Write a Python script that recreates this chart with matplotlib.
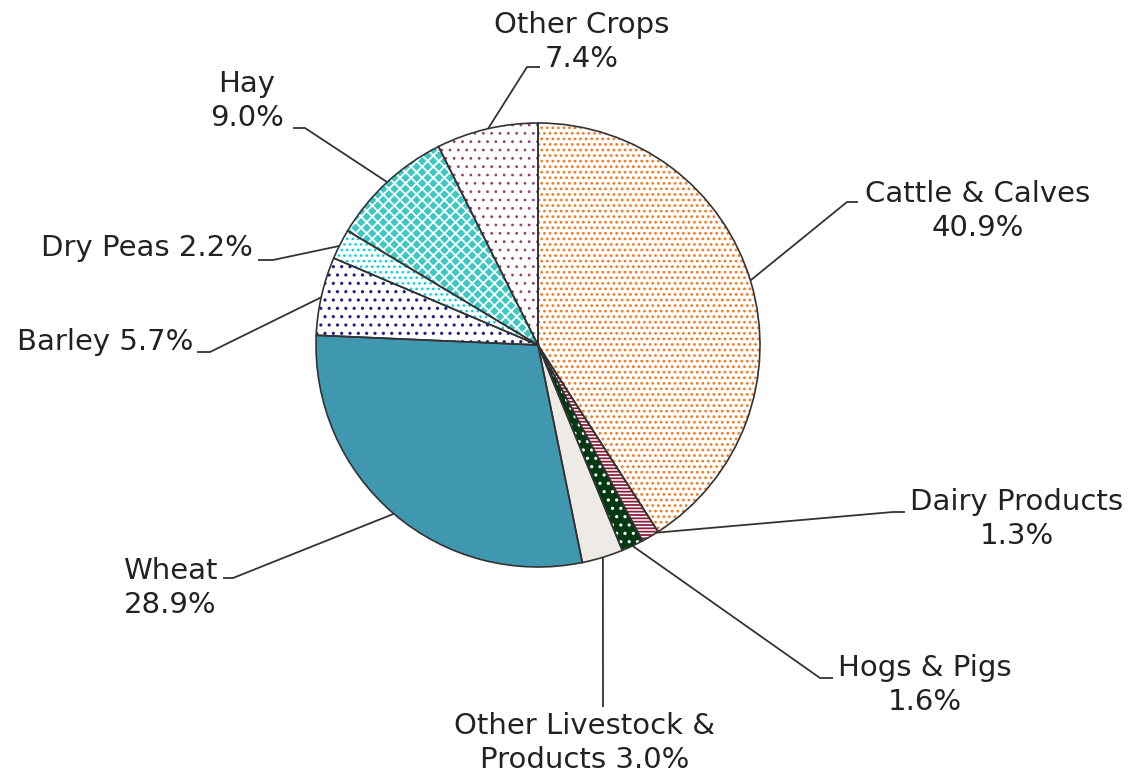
import numpy as np
import matplotlib
matplotlib.use("Agg")
from matplotlib import pyplot as plt
from matplotlib.patches import Wedge

# data (share of farm cash receipts, %), clockwise from 12 o'clock
categories = ['Cattle & Calves', 'Dairy Products', 'Hogs & Pigs',
              'Other Livestock &\nProducts', 'Wheat', 'Barley', 'Dry Peas',
              'Hay', 'Other Crops']
shares = [40.9, 1.3, 1.6, 3.0, 28.9, 5.7, 2.2, 9.0, 7.4]

# styling per slice: face colour, hatch pattern, hatch colour, hatch width
face_colors = ['white', 'white', '#013a12', '#eeebe6', '#3f97b0',
               'white', 'white', '#3ec8c4', 'white']
hatches = ['...', '-----', '..', None, None, '..', '...', 'xxx', '..']
hatch_colors = ['#f47a20', '#8e1f3a', 'white', None, None,
                '#1c1c8c', '#00d8e0', 'white', '#9a3d70']
hatch_widths = [1.2, 1.3, 1.1, 1, 1, 1.1, 1.1, 1.3, 0.8]

W, H = 1130, 775
CX, CY, R = 538, 345, 222          # pie centre / radius in image pixels

# label layout (image pixels, y downwards)
label_sep = ['\n', '\n', '\n', ' ', '\n', ' ', ' ', '\n', '\n']
label_pos = [(978, 211), (1017, 519), (925, 685), (585, 743), (170, 588),
             (193, 342), (253, 248), (247, 101), (582, 42)]
label_ha = ['center', 'center', 'center', 'center', 'center',
            'right', 'right', 'center', 'center']
anchor_ang = [16.9, -57.7, -64.8, -73.0, -130.5, 167.6, 153.5, 132.8, 103.0]
elbows = [[(858, 202), (847, 202)], [(905, 512), (893, 512)],
          [(833, 678), (820, 678)], [(603, 707)], [(223, 578), (233, 578)],
          [(197, 352), (210, 352)], [(258, 260), (273, 260)],
          [(293, 128), (305, 128)], [(540, 67), (527, 67)]]


def flip(x, y):
    return x, H - y


plt.rcParams['font.family'] = 'DejaVu Sans'
plt.rcParams['hatch.linewidth'] = 1.2

fig = plt.figure(figsize=(W / 100, H / 100), dpi=100)
ax = fig.add_axes([0, 0, 1, 1])

wedges, _ = ax.pie(shares, colors=face_colors, startangle=90,
                   counterclock=False, center=flip(CX, CY), radius=R,
                   wedgeprops=dict(edgecolor='none', linewidth=0))

for w, h, hc, hw in zip(wedges, hatches, hatch_colors, hatch_widths):
    if h:
        hp = Wedge(w.center, w.r, w.theta1, w.theta2, fill=False,
                   hatch=h, edgecolor=hc, linewidth=0, zorder=2)
        if hasattr(hp, 'set_hatch_linewidth'):
            hp.set_hatch_linewidth(hw)
        ax.add_patch(hp)
    ax.add_patch(Wedge(w.center, w.r, w.theta1, w.theta2, fill=False,
                       edgecolor='#333333', linewidth=1.2, zorder=3))

for name, val, sep, pos, ha, ang, pts in zip(categories, shares, label_sep,
                                             label_pos, label_ha, anchor_ang,
                                             elbows):
    tx, ty = flip(*pos)
    ax.text(tx, ty, f'{name}{sep}{val:.1f}%', ha=ha, va='center',
            multialignment='center', fontsize=21, color='#222222',
            linespacing=1.27)
    a = np.deg2rad(ang)
    ex, ey = CX + R * np.cos(a), CY - R * np.sin(a)
    xs = [p[0] for p in pts] + [ex]
    ys = [H - p[1] for p in pts] + [H - ey]
    ax.plot(xs, ys, color='#333333', lw=1.3, zorder=4,
            solid_capstyle='butt')

ax.set_xlim(0, W)
ax.set_ylim(0, H)
ax.set_aspect('equal')
ax.axis('off')

fig.savefig('out.png', dpi=100)
